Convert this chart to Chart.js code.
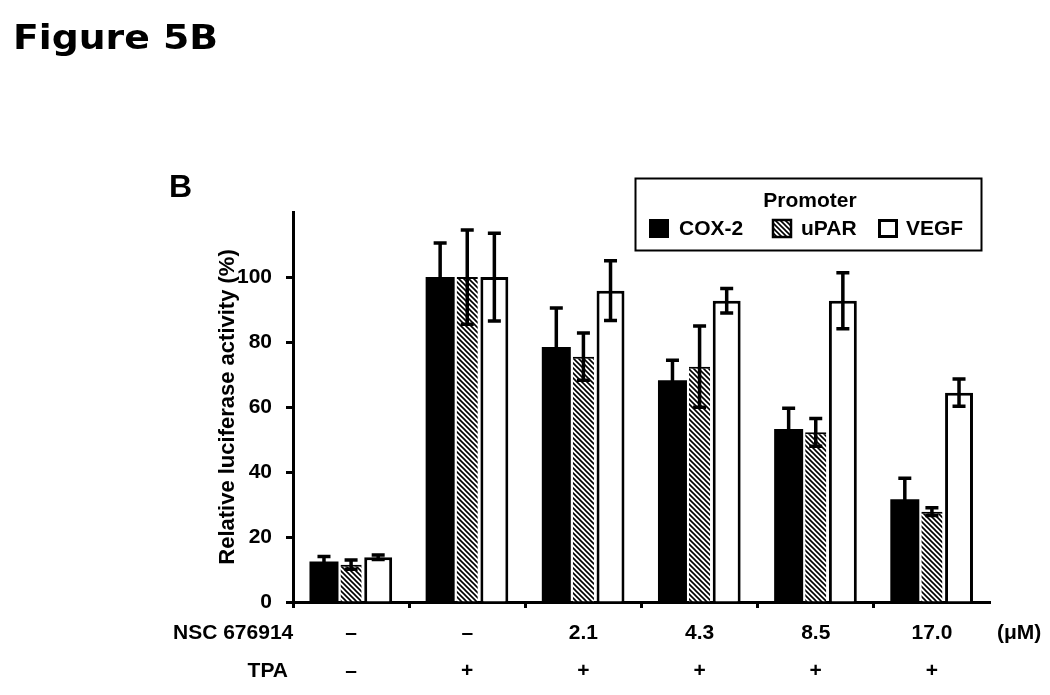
<!DOCTYPE html>
<html>
<head>
<meta charset="utf-8">
<script src="https://cdn.jsdelivr.net/npm/chart.js@4"></script>
<style>
  html, body { margin: 0; padding: 0; background: #fff; }
  #wrap { width: 1050px; height: 695px; position: relative; }
</style>
</head>
<body>
<div id="wrap"><canvas id="c" width="1050" height="695"></canvas></div>
<script>
// ---------- data ----------
const figureTitle = 'Figure 5B';
const panelLetter = 'B';
const nscDoses = ['–', '–', '2.1', '4.3', '8.5', '17.0'];
const tpaSigns = ['–', '+', '+', '+', '+', '+'];
const seriesNames = ['COX-2', 'uPAR', 'VEGF'];
const cox2Values = [12.5, 100, 78.5, 68.2, 53.2, 31.6];
const cox2Errors = [1.5, 10.5, 12.0, 6.2, 6.4, 6.5];
const uparValues = [11.5, 100, 75.5, 72.4, 52.2, 27.8];
const uparErrors = [1.4, 14.5, 7.3, 12.5, 4.3, 1.2];
const vegfValues = [13.8, 100, 95.8, 92.7, 92.7, 64.4];
const vegfErrors = [0.7, 13.5, 9.2, 3.8, 8.6, 4.2];
const yTickValues = [0, 20, 40, 60, 80, 100];
const yAxisTitle = 'Relative luciferase activity (%)';
const legendTitle = 'Promoter';
const rowTitles = ['NSC 676914', 'TPA'];
const unitLabel = '(μM)';

const FONT = '"Liberation Sans", Arial, Helvetica, sans-serif';
Chart.defaults.font.family = FONT;
Chart.defaults.color = '#000';

const canvas = document.getElementById('c');
const ctx0 = canvas.getContext('2d');

function makeHatch() {
  const p = document.createElement('canvas');
  const s = 5;
  p.width = s; p.height = s;
  const g = p.getContext('2d');
  g.fillStyle = '#fff';
  g.fillRect(0, 0, s, s);
  g.strokeStyle = '#000';
  g.lineWidth = 1.6;
  g.beginPath();
  g.moveTo(-1, -1); g.lineTo(s + 1, s + 1);
  g.moveTo(-1, s - 1); g.lineTo(1, s + 1);
  g.moveTo(s - 1, -1); g.lineTo(s + 1, 1);
  g.stroke();
  return ctx0.createPattern(p, 'repeat');
}
const hatch = makeHatch();

const labels = nscDoses.map((d, i) => [d, tpaSigns[i]]);
const errorSets = [cox2Errors, uparErrors, vegfErrors];

const TICK_LEN_X = 6, TICK_PAD_X = 6, ROW_H = 38;

const errorBars = {
  id: 'errorBars',
  afterDatasetsDraw(chart) {
    const ctx = chart.ctx;
    const ys = chart.scales.y;
    ctx.save();
    ctx.strokeStyle = '#000';
    ctx.lineWidth = 3.5;
    chart.data.datasets.forEach((ds, i) => {
      const meta = chart.getDatasetMeta(i);
      meta.data.forEach((bar, j) => {
        const v = ds.data[j], e = errorSets[i][j];
        const yt = ys.getPixelForValue(v + e);
        const yb = ys.getPixelForValue(v - e);
        const x = bar.x, hw = 6.5;
        ctx.beginPath();
        ctx.moveTo(x, yt); ctx.lineTo(x, yb);
        ctx.moveTo(x - hw, yt); ctx.lineTo(x + hw, yt);
        ctx.moveTo(x - hw, yb); ctx.lineTo(x + hw, yb);
        ctx.stroke();
      });
    });
    ctx.restore();
  }
};

const decor = {
  id: 'decor',
  afterDraw(chart) {
    const ctx = chart.ctx;
    ctx.save();
    ctx.fillStyle = '#000';
    // figure title
    ctx.textAlign = 'left';
    ctx.textBaseline = 'alphabetic';
    ctx.font = 'bold 34px "DejaVu Sans", sans-serif';
    const w = ctx.measureText(figureTitle).width;
    ctx.save();
    ctx.translate(13, 49);
    ctx.scale(205 / w, 1);
    ctx.fillText(figureTitle, 0, 0);
    ctx.restore();
    // panel letter
    ctx.font = 'bold 32px ' + FONT;
    ctx.fillText(panelLetter, 169, 197);
    // row titles aligned with x tick label rows
    const xs = chart.scales.x;
    const row1 = xs.top + TICK_LEN_X + TICK_PAD_X + ROW_H / 2;
    const row2 = row1 + ROW_H;
    ctx.font = 'bold 21px ' + FONT;
    ctx.textBaseline = 'middle';
    ctx.textAlign = 'left';
    ctx.fillText(rowTitles[0], 173, row1);
    ctx.textAlign = 'right';
    ctx.fillText(rowTitles[1], 288, row2);
    ctx.textAlign = 'left';
    ctx.fillText(unitLabel, 997, row1);
    // legend box
    const bx = 635, by = 178, bw = 346, bh = 72;
    ctx.lineWidth = 2;
    ctx.strokeStyle = '#000';
    ctx.strokeRect(bx + 0.5, by + 0.5, bw, bh);
    ctx.textAlign = 'center';
    ctx.fillText(legendTitle, bx + 175, by + 23);
    const swX = [649, 772, 878];
    const txX = [679, 801, 906];
    const swY = 219, swW = 20, swH = 19, rowY = 229;
    chart.data.datasets.forEach((ds, i) => {
      const x = swX[i];
      if (i === 0) {
        ctx.fillStyle = '#000';
        ctx.fillRect(x, swY, swW, swH);
      } else if (i === 1) {
        ctx.fillStyle = hatch;
        ctx.fillRect(x, swY, swW, swH);
        ctx.lineWidth = 2.5;
        ctx.strokeRect(x + 1, swY + 1, swW - 2, swH - 2);
      } else {
        ctx.fillStyle = '#fff';
        ctx.fillRect(x, swY, swW, swH);
        ctx.lineWidth = 3;
        ctx.strokeRect(x + 1.5, swY + 1.5, swW - 3, swH - 3);
      }
      ctx.fillStyle = '#000';
      ctx.textAlign = 'left';
      ctx.fillText(ds.label, txX[i], rowY);
    });
    ctx.restore();
  }
};

new Chart(canvas, {
  type: 'bar',
  data: {
    labels: labels,
    datasets: [
      { label: seriesNames[0], data: cox2Values, backgroundColor: '#000', borderWidth: 0,
        barPercentage: 1.07, categoryPercentage: 0.7 },
      { label: seriesNames[1], data: uparValues, backgroundColor: hatch, borderColor: '#000',
        borderWidth: { top: 2, left: 0, right: 0, bottom: 0 },
        barPercentage: 0.78, categoryPercentage: 0.7 },
      { label: seriesNames[2], data: vegfValues, backgroundColor: '#fff', borderColor: '#000',
        borderWidth: 3, borderSkipped: 'bottom',
        barPercentage: 1.03, categoryPercentage: 0.7 }
    ]
  },
  options: {
    responsive: false,
    animation: false,
    devicePixelRatio: 1,
    layout: { padding: { left: 200, right: 60, top: 212, bottom: 5 } },
    plugins: { legend: { display: false }, tooltip: { enabled: false }, title: { display: false } },
    scales: {
      x: {
        z: 1,
        grid: {
          offset: true, drawOnChartArea: false, drawTicks: true,
          tickLength: TICK_LEN_X, tickWidth: 3,
          tickColor: c => (c.type === 'tick' ? '#000' : 'rgba(0,0,0,0)')
        },
        border: { display: true, color: '#000', width: 3 },
        ticks: {
          color: '#000', autoSkip: false, maxRotation: 0, minRotation: 0,
          padding: TICK_PAD_X,
          font: { family: FONT, weight: 'bold', size: 21, lineHeight: ROW_H + 'px' }
        },
        afterFit: s => { s.height = 88; }
      },
      y: {
        z: 1,
        min: 0, max: 120,
        ticks: {
          stepSize: 20, color: '#000', padding: 14,
          font: { family: FONT, weight: 'bold', size: 21 },
          callback: v => (yTickValues.includes(v) ? String(v) : '')
        },
        grid: {
          drawOnChartArea: false, tickLength: 7, tickWidth: 3,
          tickColor: c => (c.tick && yTickValues.includes(c.tick.value) ? '#000' : 'rgba(0,0,0,0)')
        },
        border: { display: true, color: '#000', width: 3 },
        title: {
          display: true, text: yAxisTitle, color: '#000',
          font: { family: FONT, weight: 'bold', size: 22 },
          padding: { top: 15, bottom: 0 }
        },
        afterFit: s => { s.width = 93; }
      }
    }
  },
  plugins: [errorBars, decor]
});
</script>
</body>
</html>
